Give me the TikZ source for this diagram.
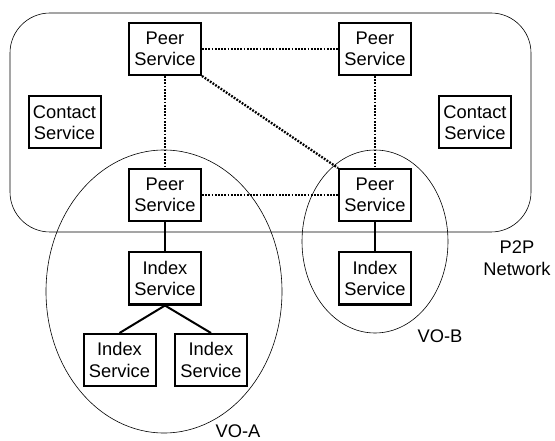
\documentclass[tikz,border=0pt]{standalone}
\usepackage{fontspec}
\setmainfont{Liberation Sans}
\begin{document}
\begin{tikzpicture}[x=1pt,y=-1pt,
  svc/.style={draw,line width=2pt,fill=white,minimum width=72pt,minimum height=52pt,inner sep=0pt,align=center,
    font=\fontsize{18.3}{21.5}\selectfont},
  lbl/.style={font=\fontsize{18.3}{21.5}\selectfont,align=center,inner sep=0pt},
  dots/.style={line width=2.3pt,dash pattern=on 1.8pt off 1.4pt},
  solidc/.style={line width=2pt},
  thin/.style={line width=0.6pt}]
\useasboundingbox (0,0) rectangle (555,441);
\draw[thin,rounded corners=40pt] (10,13) rectangle (531,232);
\draw[thin] (164,291.5) ellipse [x radius=118, y radius=141.5];
\draw[thin] (375,241.5) ellipse [x radius=73, y radius=91.5];
\node[svc] (p1) at (165,49) {Peer\\Service};
\node[svc] (p2) at (375,49) {Peer\\Service};
\node[svc] (c1) at (64.5,122.5) {Contact\\Service};
\node[svc] (c2) at (475,122.5) {Contact\\Service};
\node[svc] (p3) at (165,195) {Peer\\Service};
\node[svc] (p4) at (375,195) {Peer\\Service};
\node[svc] (i1) at (165,278.5) {Index\\Service};
\node[svc] (i2) at (119.5,360) {Index\\Service};
\node[svc] (i3) at (211,360) {Index\\Service};
\node[svc] (i4) at (375,278.5) {Index\\Service};
\draw[dots] (p1) -- (p2);
\draw[dots] (p1) -- (p3);
\draw[dots] (p2) -- (p4);
\draw[dots] (p3) -- (p4);
\draw[dots] (p1.south east) -- (p4.north west);
\draw[solidc] (p3) -- (i1);
\draw[solidc] (p4) -- (i4);
\draw[solidc] (i1.south) -- (i2.north);
\draw[solidc] (i1.south) -- (i3.north);
\node[lbl] (net) at (517,258) {P2P\\Network};
\node[lbl,anchor=base] (vob) at (440,342) {VO-B};
\node[lbl,anchor=base] (voa) at (238,437) {VO-A};
\end{tikzpicture}
\end{document}
